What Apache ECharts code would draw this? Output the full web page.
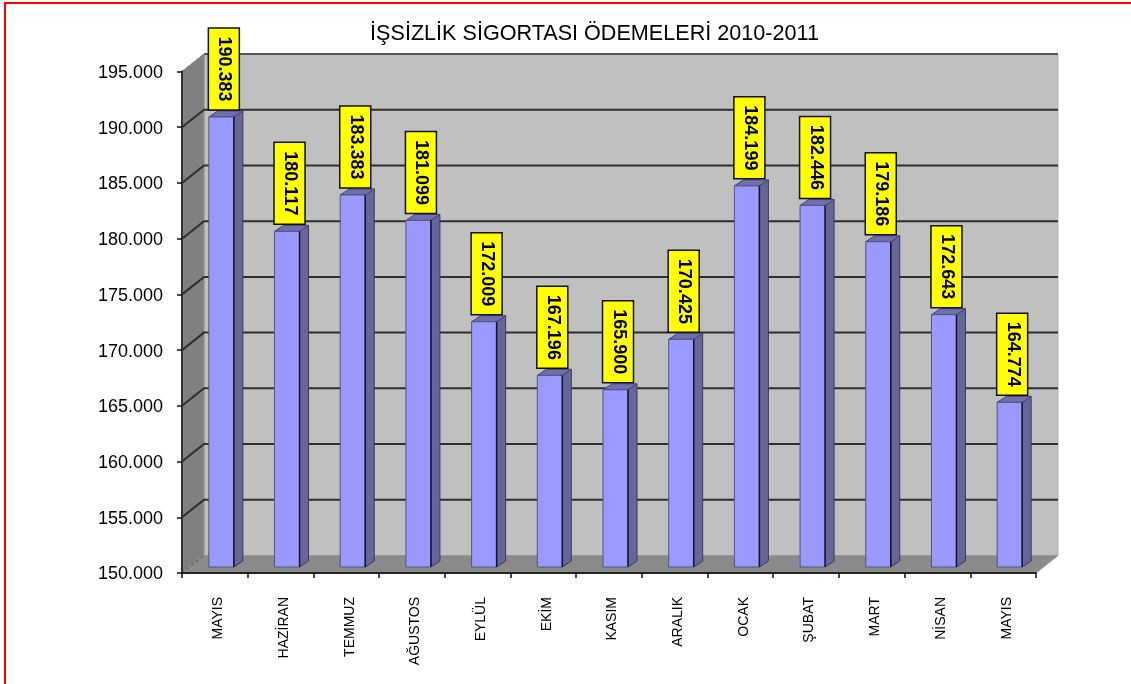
<!DOCTYPE html>
<html><head><meta charset="utf-8">
<style>html,body{margin:0;padding:0;background:#fff}#c{width:1131px;height:684px}</style>
<script src="https://cdn.jsdelivr.net/npm/echarts@6/dist/echarts.min.js"></script>
</head><body><div id="c"></div>
<script>
var months = ['MAYIS','HAZİRAN','TEMMUZ','AĞUSTOS','EYLÜL','EKİM','KASIM','ARALIK','OCAK','ŞUBAT','MART','NİSAN','MAYIS'];
var payments = [190383,180117,183383,181099,172009,167196,165900,170425,184199,182446,179186,172643,164774];
var yTicks = [150000,155000,160000,165000,170000,175000,180000,185000,190000,195000];
var chartTitle = 'İŞSİZLİK SİGORTASI ÖDEMELERİ 2010-2011';

var DX = 22, DY = 17.5, BAR_W = 25, BAR_DY = 6, SIDE_X = 9, SIDE_Y = 6, BOX_W = 31, BOX_H = 82, BOX_GAP = 7;
function fmt(v){ return String(v).replace(/\B(?=(\d{3})+$)/g,'.'); }

function renderGrid(params, api){
  var cs = params.coordSys, v = api.value(0), y = api.coord([0,v])[1];
  var x0 = cs.x, x1 = cs.x + cs.width, ln = {stroke:'#2e2e2e', lineWidth:2, fill:null};
  var kids = [];
  if (params.dataIndex === 0) {
    var top = cs.y, bot = cs.y + cs.height;
    kids.push({type:'polygon', shape:{points:[[x0+DX,top-DY],[x1+DX,top-DY],[x1+DX,bot-DY],[x0+DX,bot-DY]]}, style:{fill:'#c0c0c0', stroke:'#b4b4b4', lineWidth:1}});
    kids.push({type:'polygon', shape:{points:[[x0,top],[x0+DX,top-DY],[x0+DX,bot-DY],[x0,bot]]}, style:{fill:'#808080', stroke:'#8c8c8c', lineWidth:1}});
    kids.push({type:'polygon', shape:{points:[[x0,bot],[x0+DX,bot-DY],[x1+DX,bot-DY],[x1,bot]]}, style:{fill:'#8a8a8a', stroke:'#969696', lineWidth:1}});
    kids.push({type:'line', shape:{x1:x0,y1:bot,x2:x0+DX,y2:bot-DY}, style:{stroke:'#555', lineWidth:1, lineDash:[3,3]}});
    return {type:'group', children:kids};
  }
  if (params.dataIndex === yTicks.length - 1) {
    kids.push({type:'line', shape:{x1:x0,y1:y,x2:x0+DX,y2:y-DY}, style:{stroke:'#777', lineWidth:1, lineDash:[3,3]}});
    kids.push({type:'line', shape:{x1:x0+DX,y1:y-DY,x2:x1+DX,y2:y-DY}, style:{stroke:'#555', lineWidth:2}});
    return {type:'group', children:kids};
  }
  kids.push({type:'polyline', shape:{points:[[x0,y],[x0+DX,y-DY],[x1+DX,y-DY]]}, style:ln});
  return {type:'group', children:kids};
}
function renderBar(params, api){
  var i = api.value(0), v = api.value(1);
  var c = api.coord([i,v]), b = api.coord([i,150000]);
  var xl = c[0] - BAR_W/2 + 6.5;
  var xr = xl + BAR_W, yt = c[1] - BAR_DY, yb = b[1] - BAR_DY;
  var boxX = xl - 0.5, boxB = yt - BOX_GAP, boxT = boxB - BOX_H;
  return {type:'group', children:[
    {type:'polygon', shape:{points:[[xr,yt],[xr+SIDE_X,yt-SIDE_Y],[xr+SIDE_X,yb-SIDE_Y],[xr,yb]]}, style:{fill:'#666699', stroke:'#3a3a60', lineWidth:1}},
    {type:'polygon', shape:{points:[[xl,yt],[xl+SIDE_X,yt-SIDE_Y],[xr+SIDE_X,yt-SIDE_Y],[xr,yt]]}, style:{fill:'#6f6fb0', stroke:'#44446e', lineWidth:1}},
    {type:'rect', shape:{x:xl,y:yt,width:BAR_W,height:yb-yt}, style:{fill:'#9999ff', stroke:'#55557a', lineWidth:1}},
    {type:'line', shape:{x1:xr,y1:yt,x2:xr,y2:yb}, style:{stroke:'#15152a', lineWidth:1.5}},
    {type:'rect', shape:{x:boxX,y:boxT,width:BOX_W,height:BOX_H}, style:{fill:'#ffff00', stroke:'#111', lineWidth:1.5}},
    {type:'text', x:boxX+BOX_W/2+0.5, y:boxT+BOX_H/2, rotation:-Math.PI/2,
      style:{text:fmt(v), fill:'#000', font:'bold 18px "Liberation Sans", Arial, sans-serif', align:'center', verticalAlign:'middle'}}
  ]};
}

var chart = echarts.init(document.getElementById('c'), null, {renderer:'canvas'});
chart.setOption({
  animation:false,
  backgroundColor:'#fff',
  title:{text:chartTitle, left:589.5, top:18, textAlign:'center',
    textStyle:{fontFamily:'"Liberation Sans", Arial, sans-serif', fontSize:21.6, fontWeight:'normal', color:'#000'}},
  grid:{left:182, right:95, top:71.5, bottom:111},
  xAxis:{type:'category', data:months, boundaryGap:true, z:5,
    axisLine:{show:true, lineStyle:{color:'#222', width:2}},
    axisTick:{show:true, alignWithLabel:false, length:5, lineStyle:{color:'#111', width:1.5}},
    axisLabel:{interval:0, rotate:90, margin:24, fontSize:14, lineHeight:7, verticalAlign:'top', color:'#000', fontFamily:'"Liberation Sans", Arial, sans-serif'}},
  yAxis:{type:'value', min:150000, max:195000, interval:5000, z:5,
    axisLine:{show:true, lineStyle:{color:'#333', width:2}},
    axisTick:{show:true, length:5, lineStyle:{color:'#111', width:1.5}},
    splitLine:{show:false},
    axisLabel:{margin:19, fontSize:18, lineHeight:3, verticalAlign:'top', color:'#000', fontFamily:'"Liberation Sans", Arial, sans-serif', formatter:function(v){return fmt(v);}}},
  series:[
    {type:'custom', name:'grid', z:1, clip:false, silent:true, data:yTicks.map(function(t){return [t];}), encode:{y:0}, renderItem:renderGrid},
    {type:'custom', name:'İşsizlik sigortası ödemeleri', z:2, clip:false, data:payments.map(function(v,i){return [i,v];}), encode:{x:0,y:1}, renderItem:renderBar}
  ],
  graphic:[
    {type:'polyline', silent:true, z:10, shape:{points:[[5,684],[5,3],[1131,3]]}, style:{stroke:'#ff0000', fill:null, lineWidth:2}}
  ]
});
</script></body></html>
